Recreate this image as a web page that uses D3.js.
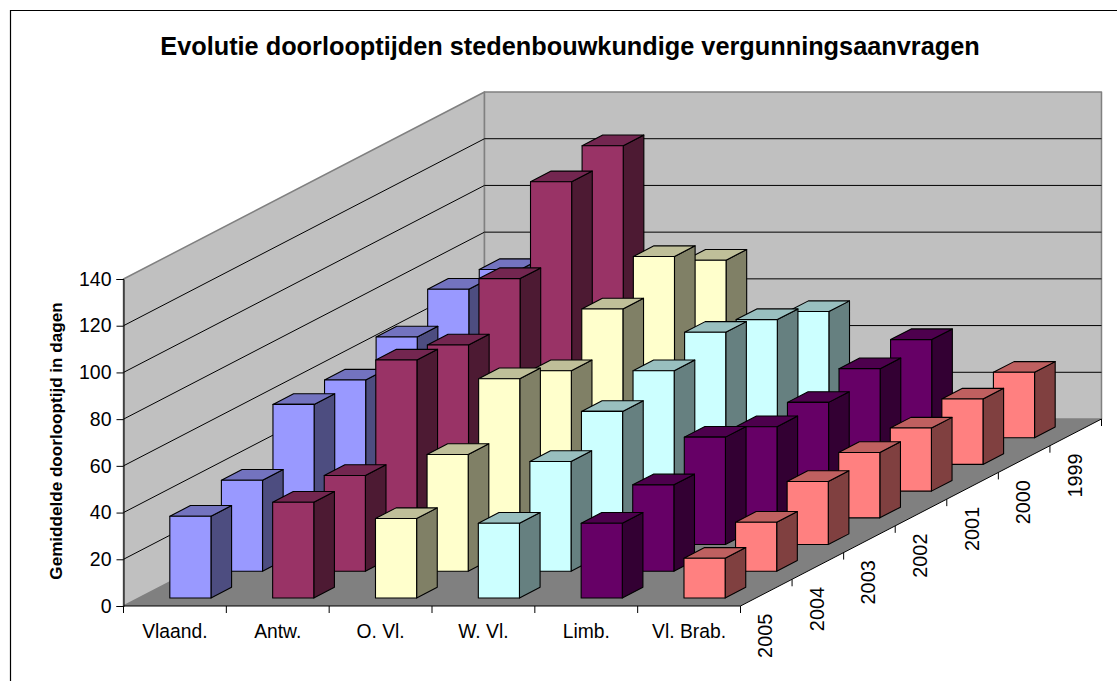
<!DOCTYPE html>
<html><head><meta charset="utf-8">
<script src="https://cdn.jsdelivr.net/npm/d3@7"></script>
<style>html,body{margin:0;padding:0;background:#fff}svg{display:block}text{font-family:"Liberation Sans",Arial,sans-serif;fill:#000}</style>
</head><body><svg id="c" width="1117" height="681"></svg>
<script>
const chartTitle = "Evolutie doorlooptijden stedenbouwkundige vergunningsaanvragen";
const yTitle = "Gemiddelde doorlooptijd in dagen";
const categories = ["Vlaand.","Antw.","O. Vl.","W. Vl.","Limb.","Vl. Brab."];
const years = ["2005","2004","2003","2002","2001","2000","1999"];
const yTicks = [0,20,40,60,80,100,120,140];
// values per category, in the order of years
const vlaand = [35,39,60,59,66,75,72];
const antw   = [41,41,79,74,91,121,125];
const oVl    = [34,50,71,63,78,89,76];
const wVl    = [32,47,57,63,68,62,54];
const limb   = [32,37,46,39,38,41,42];
const vlBrab = [17,21,27,28,27,28,28];
const series = [vlaand,antw,oVl,wVl,limb,vlBrab];
const faceColors = ["#9999FF","#993366","#FFFFCC","#CCFFFF","#660066","#FF8080"];
const topColors  = ["#7373BF","#732650","#BFBF99","#99BFBF","#4D004D","#BF6060"];
const sideColors = ["#4D4D80","#4D1A33","#808066","#668080","#330033","#804040"];

const svg=d3.select("#c");
const ox=123.5, oy=606, floorW=617, depthX=361, depthY=187, wallH=327;
const x=d3.scaleBand().domain(categories).range([0,floorW]).paddingInner(0.6).paddingOuter(0.3);
const xCell=d3.scaleBand().domain(categories).range([0,floorW]);
const d=d3.scaleBand().domain(years).range([0,1]).paddingInner(0.6).paddingOuter(0.3);
const dCell=d3.scaleBand().domain(years).range([0,1]);
const y=d3.scaleLinear().domain([0,140]).range([0,wallH]);
// oblique projection: u along the front, v into the depth, h up
const P=(u,v,h)=>[ox+u+v*depthX, oy-v*depthY-h];
const poly=(g,pts,fill,stroke,sw)=>g.append("polygon").attr("points",pts.map(p=>p.join(",")).join(" "))
  .attr("fill",fill).attr("stroke",stroke||"none").attr("stroke-width",sw||1).attr("stroke-linejoin","round");

// outer frame
svg.append("path").attr("d",`M10.5,681V10.5H1117`).attr("fill","none").attr("stroke","#000").attr("stroke-width",1.2);

svg.append("text").attr("x",570).attr("y",54.5).attr("text-anchor","middle").attr("font-weight","bold").attr("font-size",25.3).text(chartTitle);

// walls and floor
const H140=y(140);
const walls=svg.append("g");
poly(walls,[P(0,0,0),P(0,1,0),P(0,1,H140),P(0,0,H140)],"#C0C0C0","#808080",1.5);
poly(walls,[P(0,1,0),P(floorW,1,0),P(floorW,1,H140),P(0,1,H140)],"#C0C0C0","#808080",1.5);
poly(walls,[P(0,0,0),P(floorW,0,0),P(floorW,1,0),P(0,1,0)],"#808080");
yTicks.slice(1,-1).forEach(t=>{
  const a=P(0,0,y(t)),b=P(0,1,y(t)),c=P(floorW,1,y(t));
  walls.append("polyline").attr("points",[a,b,c].map(p=>p.join(",")).join(" ")).attr("fill","none").attr("stroke","#000").attr("stroke-width",1);
});

// bars, back row first
const bars=svg.append("g");
years.map((yr,i)=>i).reverse().forEach(j=>{
  categories.forEach((cat,i)=>{
    const v=series[i][j], u0=x(cat),u1=u0+x.bandwidth(),v0=d(years[j]),v1=v0+d.bandwidth(),h=y(v);
    const g=bars.append("g");
    poly(g,[P(u1,v0,0),P(u1,v1,0),P(u1,v1,h),P(u1,v0,h)],sideColors[i],"#000",1.1);
    poly(g,[P(u0,v0,h),P(u1,v0,h),P(u1,v1,h),P(u0,v1,h)],topColors[i],"#000",1.1);
    poly(g,[P(u0,v0,0),P(u1,v0,0),P(u1,v0,h),P(u0,v0,h)],faceColors[i],"#000",1.1);
  });
});

// value axis
const yPix=d3.scaleLinear().domain([0,140]).range([oy,oy-wallH]);
const yAxis=svg.append("g").attr("transform",`translate(${ox},0)`)
  .call(d3.axisLeft(yPix).tickValues(yTicks).tickSize(7).tickPadding(5).tickFormat(d3.format("d")));
yAxis.select(".domain").attr("stroke","#000");
yAxis.selectAll("text").attr("font-size",19.5).attr("font-family",'"Liberation Sans",Arial,sans-serif').attr("fill","#000");

svg.append("text").attr("transform","translate(62,441) rotate(-90)").attr("text-anchor","middle").attr("font-weight","bold").attr("font-size",17.1).text(yTitle);

// category axis
const axG=svg.append("g");
const line=(a,b)=>axG.append("line").attr("x1",a[0]).attr("y1",a[1]).attr("x2",b[0]).attr("y2",b[1]).attr("stroke","#000").attr("stroke-width",1);
line(P(0,0,0),P(floorW,0,0));
line(P(floorW,0,0),P(floorW,1,0));
categories.forEach(cat=>{
  const p=P(xCell(cat),0,0); line(p,[p[0],p[1]+7]);
  const c=P(xCell(cat)+xCell.bandwidth()/2,0,0);
  axG.append("text").attr("x",c[0]).attr("y",c[1]+31.5).attr("text-anchor","middle").attr("font-size",19.3).text(cat);
});
{const p=P(floorW,0,0); line(p,[p[0],p[1]+7]);}
// depth axis
years.forEach(yr=>{
  const p=P(floorW,dCell(yr)+dCell.bandwidth(),0); line(p,[p[0],p[1]+7]);
  const c=P(floorW,dCell(yr)+dCell.bandwidth()/2,0);
  axG.append("text").attr("transform",`translate(${c[0]+6},${c[1]+21}) rotate(-90)`).attr("text-anchor","end").attr("font-size",19.9).text(yr);
});
</script></body></html>
